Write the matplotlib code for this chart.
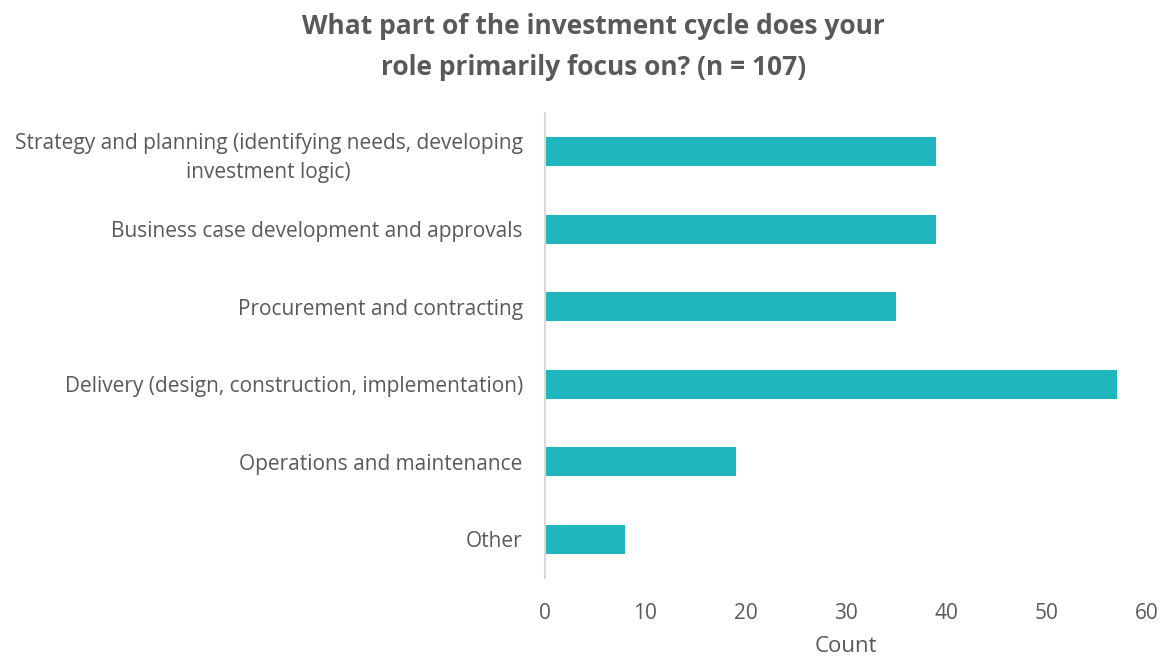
import matplotlib.pyplot as plt

# survey responses, top to bottom
categories = [
    'Strategy and planning (identifying needs, developing\ninvestment logic)',
    'Business case development and approvals',
    'Procurement and contracting',
    'Delivery (design, construction, implementation)',
    'Operations and maintenance',
    'Other',
]
counts = [39, 39, 35, 57, 19, 8]
xticks = [0, 10, 20, 30, 40, 50, 60]

plt.rcParams['font.family'] = ['Open Sans', 'DejaVu Sans']
grey = '#595959'

fig = plt.figure(figsize=(11.63, 6.59), dpi=100)
ax = fig.add_axes([0.4686, 0.123, 0.5176, 0.7055])

ypos = list(range(len(categories)))
ax.barh(ypos, counts, height=0.37, color='#20B6BE')
ax.set_ylim(len(categories) - 0.5, -0.5)
ax.set_xlim(0, 60)
ax.set_xticks(xticks)
ax.set_yticks(ypos)
ax.set_yticklabels(categories, ha='right', multialignment='center', linespacing=1.5)

for s in ['top', 'right', 'bottom']:
    ax.spines[s].set_visible(False)
ax.spines['left'].set_color('#D9D9D9')
ax.spines['left'].set_linewidth(1.5)

ax.tick_params(axis='y', length=0, pad=16, labelsize=15, labelcolor=grey)
ax.tick_params(axis='x', length=0, pad=18, labelsize=15, labelcolor=grey)
ax.set_xlabel('Count', fontsize=16, color=grey, labelpad=9)

fig.text(0.51, 0.929, 'What part of the investment cycle does your\nrole primarily focus on? (n = 107)',
         ha='center', va='center', fontsize=19, fontweight='bold', color=grey,
         linespacing=1.65)

fig.savefig('out.png', dpi=100)
